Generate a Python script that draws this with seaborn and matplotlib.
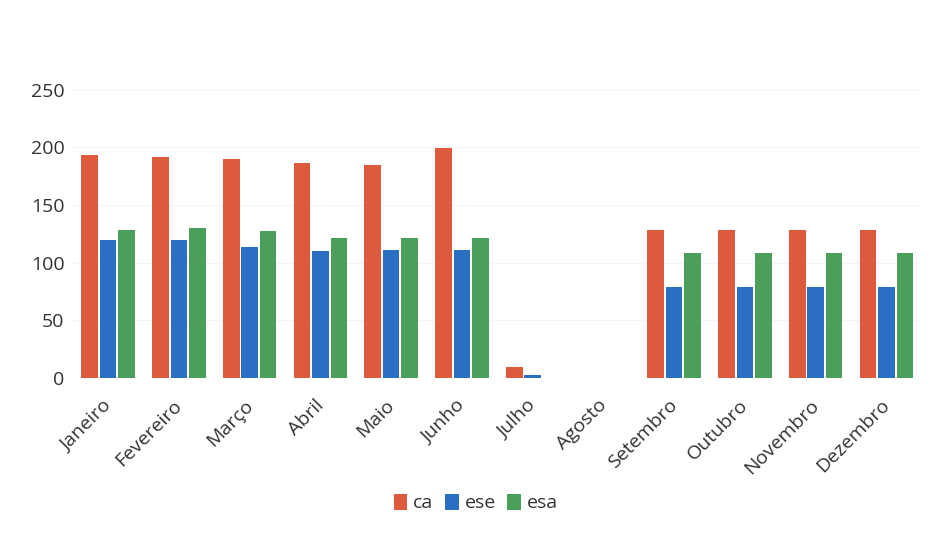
import matplotlib
matplotlib.use("Agg")
import matplotlib.pyplot as plt
import matplotlib.transforms as mtransforms
import seaborn as sns
import pandas as pd

months = ["Janeiro", "Fevereiro", "Março", "Abril", "Maio", "Junho",
          "Julho", "Agosto", "Setembro", "Outubro", "Novembro", "Dezembro"]
ca = [193, 191.5, 190, 186.5, 185, 199.5, 9.5, 0, 128, 128, 128, 128]
ese = [119.5, 119.5, 113.5, 110.5, 111.5, 111.5, 2.5, 0, 79, 79, 79, 79]
esa = [128.5, 130, 127.5, 121.5, 121.5, 121.5, 0, 0, 108.5, 108.5, 108.5, 108.5]
series = ["ca", "ese", "esa"]
colors = ["#DD5A3C", "#2B6FC2", "#4C9F5A"]
yticks = [0, 50, 100, 150, 200, 250]

df = pd.DataFrame({"mes": months * 3,
                   "serie": [s for s in series for _ in months],
                   "valor": ca + ese + esa})

sns.set_theme(style="white")
plt.rcParams["font.family"] = ["Open Sans", "DejaVu Sans"]

fig, ax = plt.subplots(figsize=(9.33, 5.38), dpi=100)
fig.subplots_adjust(left=0.078, right=0.988, top=0.9407, bottom=0.297)

sns.barplot(data=df, x="mes", y="valor", hue="serie", order=months,
            hue_order=series, palette=colors, width=0.78, gap=0.1,
            saturation=1, errorbar=None, linewidth=0, ax=ax)

ax.set_ylim(0, 300)
ax.set_yticks(yticks)
ax.set_yticklabels([str(v) for v in yticks], fontsize=14, color="#333333")
ax.set_xlim(-0.5, len(months) - 0.5)
ax.set_xlabel("")
ax.set_ylabel("")
ax.yaxis.grid(True, color="#f4f4f4", linewidth=0.8)
ax.set_axisbelow(True)
for side in ["top", "right", "left", "bottom"]:
    ax.spines[side].set_visible(False)
ax.tick_params(axis="both", length=0, pad=6)
ax.set_xticks(range(len(months)))
ax.set_xticklabels(months, rotation=45, ha="right", rotation_mode="anchor",
                   fontsize=14, color="#333333")
ax.tick_params(axis="x", pad=13)
shift = mtransforms.ScaledTranslation(-6 / 100, 0, fig.dpi_scale_trans)
for lbl in ax.get_xticklabels():
    lbl.set_transform(lbl.get_transform() + shift)

ax.legend_.remove()
handles, labels = ax.get_legend_handles_labels()
fig.legend(handles, labels, loc="center", bbox_to_anchor=(0.51, 0.065),
           ncol=3, frameon=False, fontsize=14, handlelength=0.7,
           handleheight=0.9, handletextpad=0.3, columnspacing=0.6,
           labelcolor="#333333")

fig.savefig("out.png", dpi=100, facecolor="white")
